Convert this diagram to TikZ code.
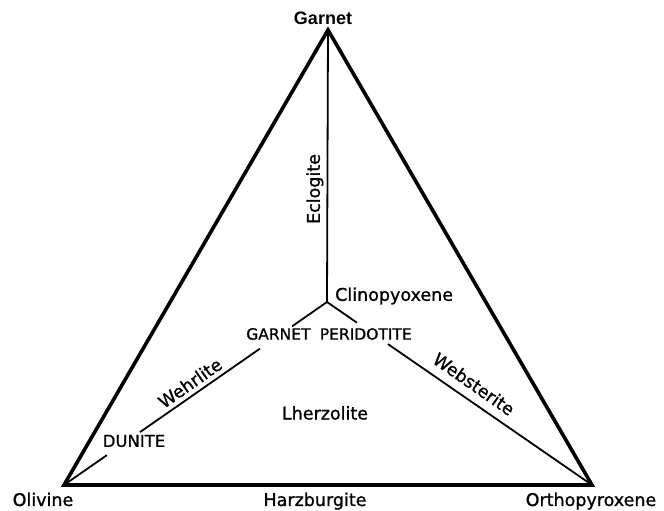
\documentclass[tikz,border=0pt]{standalone}
\usepackage{fontspec}
\setmainfont{DejaVu Sans}[FakeBold=1]
\newfontfamily\apexfont{Liberation Sans}
\usetikzlibrary{calc}

\tikzset{
  rim/.style={line width=3.6pt,line join=miter},
  tie/.style={line width=1.8pt},
  lbl/.style={font=\fontsize{17.5}{19}\selectfont,inner sep=0pt},
  caps/.style={font=\fontsize{15.5}{18}\selectfont,inner sep=0pt},
}

\begin{document}
\begin{tikzpicture}[x=1pt,y=1pt]
        \useasboundingbox (0,0) rectangle (664,511);
        % corners and the inner junction
        \coordinate (Ol) at (64,26);
        \coordinate (Ga) at (328,481);
        \coordinate (Op) at (592,26);
        \coordinate (Cx) at (327,209);
        \draw[rim] (Ol) -- (Ga) -- (Op) -- cycle;
        \draw[tie] (Ga) -- (Cx);
        \draw[tie] (Cx) -- ($(Cx)!0.133!(Ol)$);
        \draw[tie] ($(Cx)!0.255!(Ol)$) -- ($(Cx)!0.711!(Ol)$);
        \draw[tie] ($(Cx)!0.837!(Ol)$) -- (Ol);
        \draw[tie] (Cx) -- ($(Cx)!0.113!(Op)$);
        \draw[tie] ($(Cx)!0.23!(Op)$) -- (Op);
        % corner names
        \node[inner sep=0pt,font=\apexfont\fontsize{18}{20}\selectfont\bfseries]
              (garnet) at (323,493) {Garnet};
        \node[lbl,anchor=base] (olivine) at (43,5) {Olivine};
        \node[lbl,anchor=base] (harz) at (315,5) {Harzburgite};
        \node[lbl,anchor=base] (opx) at (591,5) {Orthopyroxene};
        % rock names
        \node[lbl,rotate=90] (eclog) at (315,322) {Eclogite};
        \node[lbl,anchor=west] (cpx) at (335,215) {Clinopyoxene};
        \node[caps] (gperid) at (329,177) {GARNET\hspace{0.6em}PERIDOTITE};
        \node[caps,font=\fontsize{16.5}{18}\selectfont] (dunite) at (134,70) {DUNITE};
        \node[lbl,rotate=35] (wehr) at (190,128) {Wehrlite};
        \node[lbl,rotate=-35] (webst) at (474,127) {Websterite};
        \node[lbl] (lherz) at (325,98) {Lherzolite};
      \end{tikzpicture}
\end{document}
